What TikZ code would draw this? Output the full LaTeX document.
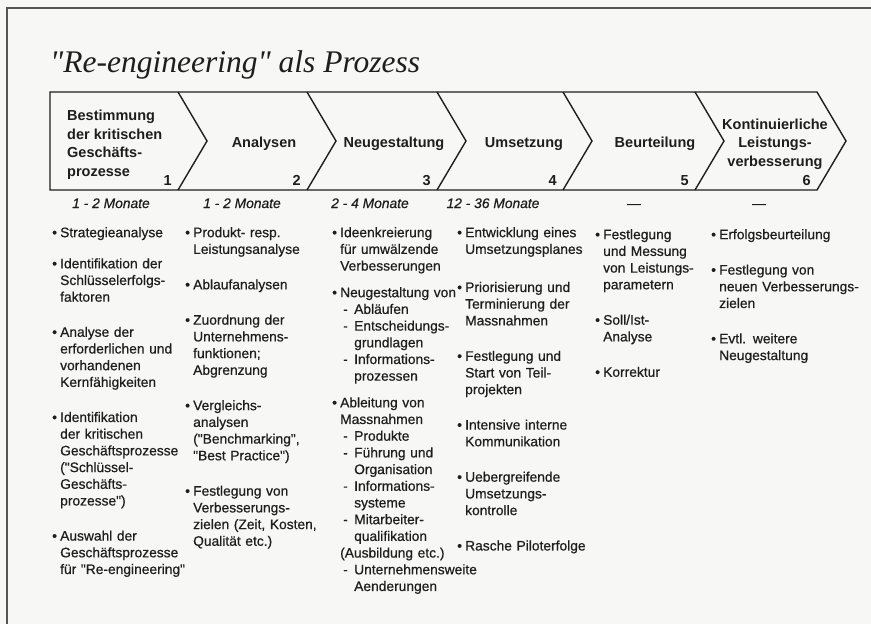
\documentclass[tikz,border=0pt]{standalone}
\usepackage{fontspec}
\setmainfont{Liberation Sans}
\newfontfamily\titlefont{Liberation Serif}
\newfontfamily\listfont{Liberation Sans}[FakeBold=0.6]
\usepackage{xcolor}
\usepackage{tikz}
\usetikzlibrary{positioning}
\definecolor{ink}{RGB}{30,30,30}
\definecolor{framegray}{RGB}{85,85,85}
\definecolor{paper}{RGB}{247,247,245}
\newcommand{\bul}[1]{\makebox[8pt][l]{\textbullet}\begin{tabular}[t]{@{}l@{}}#1\end{tabular}}
\newcommand{\dashitem}[1]{\makebox[14pt][l]{\hspace{3pt}-}#1}
\newcommand{\subindent}{\hspace*{14pt}}
\tikzset{
  phase/.style={font=\fontsize{14.5}{18.5}\selectfont\bfseries, text=ink, inner sep=0pt, align=center},
  phasenum/.style={font=\fontsize{14.5}{17}\selectfont\bfseries, text=ink, inner sep=0pt, anchor=base east},
  duration/.style={font=\listfont\fontsize{13.8}{16.7}\selectfont\itshape, text=ink, inner sep=0pt, anchor=base},
  item/.style={font=\listfont\fontsize{13.8}{16.7}\selectfont, text=ink, inner sep=0pt, align=left, text width=#1},
  chevron/.style={draw=ink, line width=1.4pt, line join=miter},
  frameline/.style={draw=framegray, line width=1.2pt}
}

\begin{document}
\begin{tikzpicture}[x=1pt, y=-1pt, node distance=18.3pt]
\fill[paper] (0,0) rectangle (871,624);
\useasboundingbox (0,0) rectangle (871,624);
\draw[frameline] (7,624) -- (7,8) -- (871,8);

\node[anchor=base west, inner sep=0pt, text=ink, font=\titlefont\fontsize{31.5}{36}\selectfont\itshape] (title) at (50,72) {"Re-engineering" als Prozess};

% process bar
\draw[chevron] (50,92) -- (817,92) -- (846,141) -- (817,190) -- (50,190) -- cycle;
\foreach \x in {178,307,437,563,695}
  \draw[chevron] (\x,92) -- (\x+29,141) -- (\x,190);

\node[phase, align=left, anchor=west] (ph1) at (67,144.7) {Bestimmung\\der kritischen\\Geschäfts-\\prozesse};
\node[phase, anchor=base] (ph2) at (264,147) {Analysen};
\node[phase, anchor=base] (ph3) at (394,147) {Neugestaltung};
\node[phase, anchor=base] (ph4) at (524,147) {Umsetzung};
\node[phase, anchor=base] (ph5) at (655,147) {Beurteilung};
\node[phase] (ph6) at (775,144) {Kontinuierliche\\Leistungs-\\verbesserung};

\foreach \x/\n in {178/1,307/2,437/3,563/4,695/5,817/6}
  \node[phasenum] (num\n) at (\x-6,185) {\n};

\node[duration] (du1) at (111,208) {1 - 2 Monate};
\node[duration] (du2) at (242,208) {1 - 2 Monate};
\node[duration] (du3) at (370,208) {2 - 4 Monate};
\node[duration] (du4) at (493,208) {12 - 36 Monate};
\node[duration] (du5) at (634,208) {—};
\node[duration] (du6) at (759,208) {—};

% column 1
\node[item=135pt, anchor=north west] (c1a) at (52,225.3) {\bul{Strategieanalyse}};
\node[item=135pt, below=14pt of c1a] (c1b) {\bul{Identifikation der\\Schlüsselerfolgs-\\faktoren}};
\node[item=135pt, below=18pt of c1b] (c1c) {\bul{Analyse der\\erforderlichen und\\vorhandenen\\Kernfähigkeiten}};
\node[item=135pt, below=18pt of c1c] (c1d) {\bul{Identifikation\\der kritischen\\Geschäftsprozesse\\("Schlüssel-\\Geschäfts-\\prozesse")}};
\node[item=135pt, below=18pt of c1d] (c1e) {\bul{Auswahl der\\Geschäftsprozesse\\für "Re-engineering"}};

% column 2
\node[item=145pt, anchor=north west] (c2a) at (185,225.3) {\bul{Produkt- resp.\\Leistungsanalyse}};
\node[item=145pt, below=of c2a] (c2b) {\bul{Ablaufanalysen}};
\node[item=145pt, below=of c2b] (c2c) {\bul{Zuordnung der\\Unternehmens-\\funktionen;\\Abgrenzung}};
\node[item=145pt, below=of c2c] (c2d) {\bul{Vergleichs-\\analysen\\("Benchmarking",\\"Best Practice")}};
\node[item=145pt, below=of c2d] (c2e) {\bul{Festlegung von\\Verbesserungs-\\zielen (Zeit, Kosten,\\Qualität etc.)}};

% column 3
\node[item=140pt, anchor=north west] (c3a) at (332,225.3) {\bul{Ideenkreierung\\für umwälzende\\Verbesserungen}};
\node[item=140pt, below=9.5pt of c3a] (c3b) {\bul{Neugestaltung von\\\dashitem{Abläufen}\\\dashitem{Entscheidungs-}\\\subindent grundlagen\\\dashitem{Informations-}\\\subindent prozessen}};
\node[item=140pt, below=9.5pt of c3b] (c3c) {\bul{Ableitung von\\Massnahmen\\\dashitem{Produkte}\\\dashitem{Führung und}\\\subindent Organisation\\\dashitem{Informations-}\\\subindent systeme\\\dashitem{Mitarbeiter-}\\\subindent qualifikation\\(Ausbildung etc.)\\\dashitem{Unternehmensweite}\\\subindent Aenderungen}};

% column 4
\node[item=140pt, anchor=north west] (c4a) at (457,225.3) {\bul{Entwicklung eines\\Umsetzungsplanes}};
\node[item=140pt, below=21pt of c4a] (c4b) {\bul{Priorisierung und\\Terminierung der\\Massnahmen}};
\node[item=140pt, below=of c4b] (c4c) {\bul{Festlegung und\\Start von Teil-\\projekten}};
\node[item=140pt, below=of c4c] (c4d) {\bul{Intensive interne\\Kommunikation}};
\node[item=140pt, below=of c4d] (c4e) {\bul{Uebergreifende\\Umsetzungs-\\kontrolle}};
\node[item=140pt, below=of c4e] (c4f) {\bul{Rasche Piloterfolge}};

% column 5
\node[item=110pt, anchor=north west] (c5a) at (595,227.3) {\bul{Festlegung\\und Messung\\von Leistungs-\\parametern}};
\node[item=110pt, below=of c5a] (c5b) {\bul{Soll/Ist-\\Analyse}};
\node[item=110pt, below=of c5b] (c5c) {\bul{Korrektur}};

% column 6
\node[item=152pt, anchor=north west] (c6a) at (711,227.3) {\bul{Erfolgsbeurteilung}};
\node[item=152pt, below=of c6a] (c6b) {\bul{Festlegung von\\neuen Verbesserungs-\\zielen}};
\node[item=152pt, below=of c6b] (c6c) {\bul{Evtl. weitere\\Neugestaltung}};
\end{tikzpicture}
\end{document}
